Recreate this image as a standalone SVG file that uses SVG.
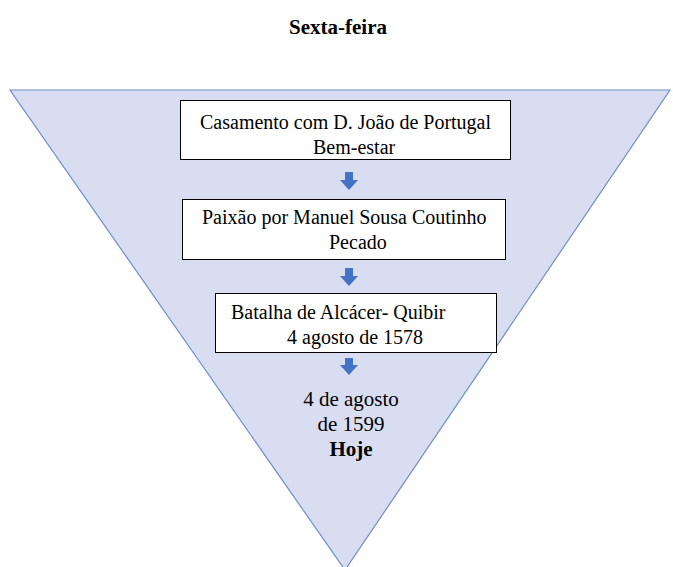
<svg xmlns="http://www.w3.org/2000/svg" width="673" height="567" viewBox="0 0 673 567">
<style>
.t{font-family:"Liberation Serif","Times New Roman","DejaVu Serif",serif;font-size:20px;fill:#000}
.b{font-weight:bold}
.big{font-size:21px}
.box{fill:#fff;stroke:#000;stroke-width:1}
.arr{fill:#4472c4}
</style>
<rect width="673" height="567" fill="#fff"/>
<text class="t b big" x="338" y="34" text-anchor="middle">Sexta-feira</text>
<g id="funnel"><polygon points="10,90 670,90 345,570" fill="#d9ddf1" stroke="#6f8fc8" stroke-width="1.2"/></g>
<g id="connectors">
<path class="arr" d="M345,172 h8 v8 h5 l-9,10 l-9,-10 h5 z"/>
<path class="arr" d="M345,268 h8 v8 h5 l-9,10 l-9,-10 h5 z"/>
<path class="arr" d="M345,358 h8 v7 h5 l-9,10 l-9,-10 h5 z"/>
</g>
<g id="n1"><rect class="box" x="180.5" y="100.5" width="330" height="59"/>
<text class="t" x="200" y="129">Casamento com D. João de Portugal</text>
<text class="t" x="313" y="154">Bem-estar</text></g>
<g id="n2"><rect class="box" x="182.5" y="199.5" width="323" height="60"/>
<text class="t" x="202" y="224">Paixão por Manuel Sousa Coutinho</text>
<text class="t" x="329" y="249">Pecado</text></g>
<g id="n3"><rect class="box" x="215.5" y="293.5" width="281" height="59"/>
<text class="t" x="231" y="319">Batalha de Alcácer- Quibir</text>
<text class="t" x="287" y="344">4 agosto de 1578</text></g>
<g id="n4">
<text class="t big" x="351" y="406" text-anchor="middle">4 de agosto</text>
<text class="t big" x="351" y="431" text-anchor="middle">de 1599</text>
<text class="t big b" x="351" y="456" text-anchor="middle">Hoje</text></g>
</svg>
